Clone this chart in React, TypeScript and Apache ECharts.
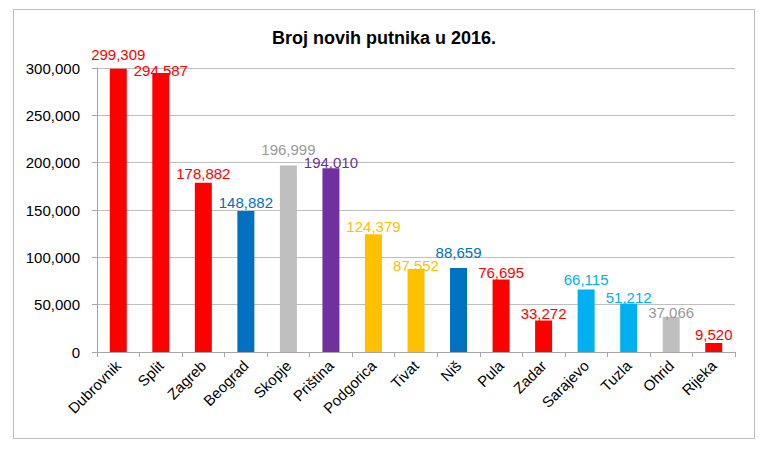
import React, { useEffect, useRef } from 'react'
import * as echarts from 'echarts'

const cities = ['Dubrovnik', 'Split', 'Zagreb', 'Beograd', 'Skopje', 'Priština', 'Podgorica', 'Tivat', 'Niš', 'Pula', 'Zadar', 'Sarajevo', 'Tuzla', 'Ohrid', 'Rijeka']
const passengers = [299309, 294587, 178882, 148882, 196999, 194010, 124379, 87552, 88659, 76695, 33272, 66115, 51212, 37066, 9520]
const barColors = ['#FF0000', '#FF0000', '#FF0000', '#0070C0', '#BFBFBF', '#7030A0', '#FFC000', '#FFC000', '#0070C0', '#FF0000', '#FF0000', '#00B0F0', '#00B0F0', '#BFBFBF', '#FF0000']
const labelColors = ['#FF0000', '#FF0000', '#FF0000', '#0070C0', '#999999', '#7030A0', '#FFC000', '#FFC000', '#0070C0', '#FF0000', '#FF0000', '#00B0F0', '#00B0F0', '#999999', '#FF0000']
// labels were nudged by hand in the original, so each one gets its own gap
const labelGap = [7, -5, 2, 1, 9, -2, 0, -4, 8, -1, 0, 2, -1, -3, 1]

const FONT = 'Liberation Sans'

const fmt = (v: number) => v.toLocaleString('en-US')

const App: React.FC = () => {
  const chartRef = useRef<HTMLDivElement>(null)

  useEffect(() => {
    if (!chartRef.current) return
    const chart = echarts.init(chartRef.current, null, { renderer: 'svg' })

    const option = {
      animation: false,
      backgroundColor: '#fff',
      textStyle: { fontFamily: FONT },
      title: {
        text: 'Broj novih putnika u 2016.',
        left: 'center',
        top: 24,
        textStyle: { fontFamily: FONT, fontSize: 18, fontWeight: 'bold', color: '#000' }
      },
      graphic: [
        {
          type: 'rect',
          shape: { x: 13.5, y: 9.5, width: 741, height: 429 },
          style: { fill: 'none', stroke: '#BFBFBF', lineWidth: 1 },
          silent: true
        }
      ],
      grid: { left: 97, right: 33, top: 68, bottom: 101 },
      xAxis: {
        type: 'category',
        data: cities,
        axisLine: { show: true, lineStyle: { color: '#A6A6A6' } },
        axisTick: { show: true, alignWithLabel: false, length: 5, lineStyle: { color: '#A6A6A6' } },
        axisLabel: {
          interval: 0,
          rotate: 45,
          fontFamily: FONT,
          fontSize: 15,
          color: '#000',
          margin: 11
        }
      },
      yAxis: {
        type: 'value',
        min: 0,
        max: 300000,
        interval: 50000,
        axisLine: { show: true, lineStyle: { color: '#A6A6A6' } },
        axisTick: { show: true, length: 5, lineStyle: { color: '#A6A6A6' } },
        splitLine: { lineStyle: { color: '#BFBFBF' } },
        axisLabel: {
          fontFamily: FONT,
          fontSize: 15,
          color: '#000',
          margin: 17,
          formatter: (v: number) => fmt(v)
        }
      },
      series: [
        {
          type: 'bar',
          barWidth: 17,
          data: passengers.map((v, i) => ({
            value: v,
            itemStyle: { color: barColors[i] },
            label: { color: labelColors[i], distance: labelGap[i] }
          })),
          label: {
            show: true,
            position: 'top',
            fontFamily: FONT,
            fontSize: 15,
            formatter: (p: any) => fmt(p.value)
          }
        }
      ]
    }

    chart.setOption(option)
    return () => {
      chart.dispose()
    }
  }, [])

  return <div ref={chartRef} style={{ width: 768, height: 453, margin: -8 }} />
}

export default App
